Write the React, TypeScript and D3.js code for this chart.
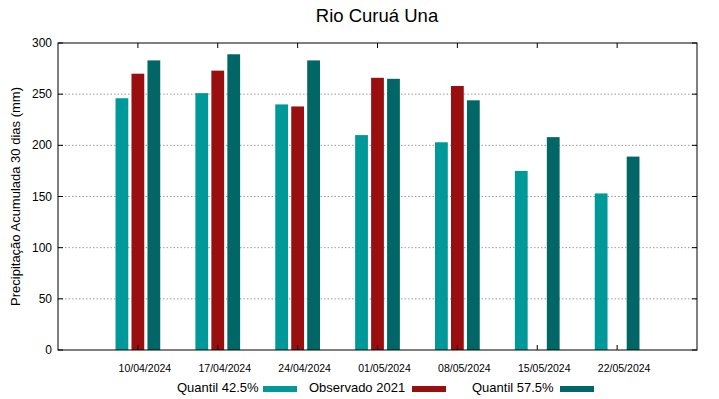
import * as d3 from 'd3';
import * as React from 'react';

const categories = ['10/04/2024', '17/04/2024', '24/04/2024', '01/05/2024', '08/05/2024', '15/05/2024', '22/05/2024'];
const quantil425 = [246, 251, 240, 210, 203, 175, 153];
const observado2021: (number | null)[] = [270, 273, 238, 266, 258, null, null];
const quantil575 = [283, 289, 283, 265, 244, 208, 189];
const yTicks = [0, 50, 100, 150, 200, 250, 300];

const series = [
  { name: 'Quantil 42.5%', values: quantil425 as (number | null)[], color: '#009999', offset: -1 },
  { name: 'Observado 2021', values: observado2021, color: '#990f0f', offset: 0 },
  { name: 'Quantil 57.5%', values: quantil575 as (number | null)[], color: '#016666', offset: 1 },
];

const W = 719;
const H = 399;
const m = { left: 58, right: 22, top: 43, bottom: 49 };
const font = '"Liberation Sans", Arial, sans-serif';

export default function App() {
  const x = d3.scaleLinear().domain([-1, categories.length]).range([m.left, W - m.right]);
  const y = d3.scaleLinear().domain([0, 300]).range([H - m.bottom, m.top]);
  const step = x(1) - x(0);
  const barW = step * 0.16;
  const gap = step * 0.2;

  // legend placement (text start, swatch start)
  const legendItems = [
    { text: 177, sw: 263 },
    { text: 309, sw: 412 },
    { text: 472, sw: 560 },
  ];

  return (
    <svg width={W} height={H} style={{ position: 'absolute', left: 0, top: 0, fontFamily: font }}>
      <rect width={W} height={H} fill="#fff" />
      <text x={377} y={22} textAnchor="middle" fontSize={18.5} fill="#000">Rio Curuá Una</text>
      {yTicks.map((t) => (
        <g key={t}>
          {t > 0 && t < 300 && (
            <line x1={m.left} x2={W - m.right} y1={y(t)} y2={y(t)} stroke="#999" strokeDasharray="1.5,2" strokeWidth={1} />
          )}
          <line x1={m.left} x2={m.left + 5} y1={y(t)} y2={y(t)} stroke="#000" />
          <line x1={W - m.right - 5} x2={W - m.right} y1={y(t)} y2={y(t)} stroke="#000" />
          <text x={m.left - 6} y={y(t) + 4} textAnchor="end" fontSize={12}>{t}</text>
        </g>
      ))}
      {series.map((s) =>
        s.values.map((v, i) =>
          v == null ? null : (
            <rect
              key={s.name + i}
              x={x(i) + s.offset * gap - barW / 2}
              y={y(v)}
              width={barW}
              height={y(0) - y(v)}
              fill={s.color}
            />
          ),
        ),
      )}
      {categories.map((c, i) => (
        <g key={c}>
          <line x1={x(i)} x2={x(i)} y1={m.top} y2={m.top + 5} stroke="#000" />
          <line x1={x(i)} x2={x(i)} y1={H - m.bottom} y2={H - m.bottom - 5} stroke="#000" />
          <text x={x(i) + 7} y={372} textAnchor="middle" fontSize={10.5}>{c}</text>
        </g>
      ))}
      <rect x={m.left} y={m.top} width={W - m.right - m.left} height={H - m.bottom - m.top} fill="none" stroke="#000" strokeWidth={1} />
      <text transform={`translate(20,${(m.top + H - m.bottom) / 2}) rotate(-90)`} textAnchor="middle" fontSize={13}>
        Precipitação Acumulada 30 dias (mm)
      </text>
      {series.map((s, i) => (
        <g key={s.name}>
          <text x={legendItems[i].text} y={392} fontSize={13}>{s.name}</text>
          <rect x={legendItems[i].sw} y={386} width={34} height={6} fill={s.color} />
        </g>
      ))}
    </svg>
  );
}
